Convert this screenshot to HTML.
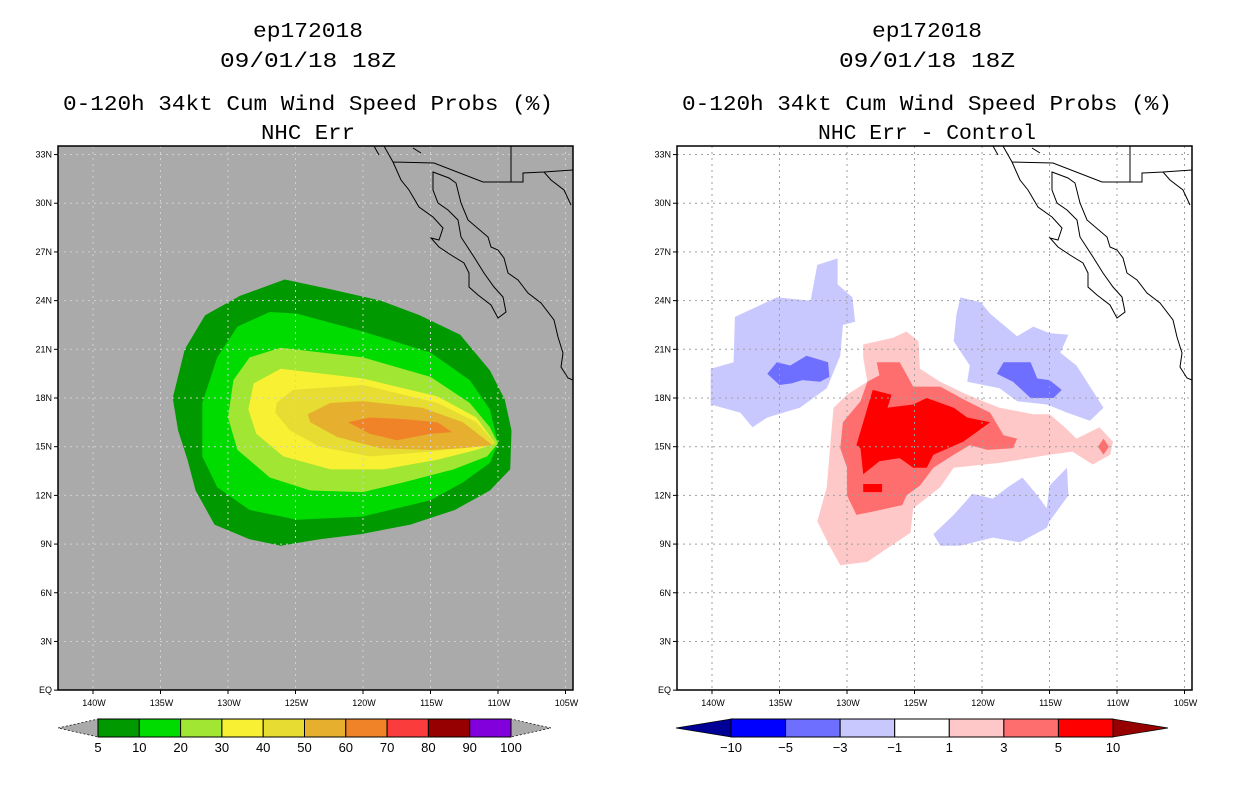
<!DOCTYPE html>
<html><head><meta charset="utf-8"><style>
html,body{margin:0;padding:0;background:#fff;}
svg{display:block;font-family:"Liberation Sans",sans-serif;}
.tt{font-family:"Liberation Mono",monospace;font-size:21px;}
</style></head><body>
<svg id="root" width="1236" height="800" viewBox="0 0 1236 800" xmlns="http://www.w3.org/2000/svg">
<text class="tt" x="308" y="37" text-anchor="middle" textLength="110" lengthAdjust="spacingAndGlyphs">ep172018</text>
<text class="tt" x="308" y="67" text-anchor="middle" textLength="176" lengthAdjust="spacingAndGlyphs">09/01/18 18Z</text>
<text class="tt" x="308" y="110" text-anchor="middle" textLength="490" lengthAdjust="spacingAndGlyphs">0-120h 34kt Cum Wind Speed Probs (%)</text>
<text class="tt" x="308" y="139" text-anchor="middle" textLength="94" lengthAdjust="spacingAndGlyphs">NHC Err</text>
<text class="tt" x="927" y="37" text-anchor="middle" textLength="110" lengthAdjust="spacingAndGlyphs">ep172018</text>
<text class="tt" x="927" y="67" text-anchor="middle" textLength="176" lengthAdjust="spacingAndGlyphs">09/01/18 18Z</text>
<text class="tt" x="927" y="110" text-anchor="middle" textLength="490" lengthAdjust="spacingAndGlyphs">0-120h 34kt Cum Wind Speed Probs (%)</text>
<text class="tt" x="927" y="139" text-anchor="middle" textLength="218" lengthAdjust="spacingAndGlyphs">NHC Err - Control</text>
<g id="left"></g>
<g id="right"></g>
<g id="cbars"></g>
</svg>
<script>
// ---- data ----
const lonTicks = [140,135,130,125,120,115,110,105];
const latTicks = [0,3,6,9,12,15,18,21,24,27,30,33];
const latLabels = ["EQ","3N","6N","9N","12N","15N","18N","21N","24N","27N","30N","33N"];
const probLevels = [5,10,20,30,40,50,60,70,80,90,100];
const probColors = ["#009a00","#00dc00","#a0e632","#f8f032","#e6dc32","#e6af2d","#f08228","#fa3c3c","#960000","#8200dc"];
const diffLevels = ["\u221210","\u22125","\u22123","\u22121","1","3","5","10"];
const diffColors = ["#0000ff","#6e6eff","#c8c8ff","#ffffff","#ffc8c8","#ff6e6e","#ff0000"];
// contour polygons: [lonW, latN] pairs
const prob5 = [[134.1,18],[133.2,21],[131.7,23.1],[129.1,24.3],[125.8,25.3],[122.4,24.7],[118.7,24],[115.8,23.1],[112.8,21.9],[110.6,19.7],[109.5,17.9],[109,16],[109.1,13.6],[110.6,12.3],[113.2,11.1],[116.5,10.2],[120.2,9.6],[123.2,9.3],[126.1,8.9],[128.4,9.3],[131,10.2],[132.4,12.3],[133,14.2],[133.7,16]];
const prob10 = [[129.3,22.4],[126.9,23.3],[124.9,23.2],[120,22.1],[115,20.8],[112.1,19.1],[110.6,17.3],[110,15.2],[110.6,14],[112.6,12.8],[115,11.7],[120,10.7],[124.9,10.5],[128.4,11.1],[130.8,12.5],[131.9,14.4],[131.9,17.7],[130.8,20.5]];
const prob20 = [[128.4,20.5],[126.1,21.1],[120,20.5],[115,19.3],[112.1,17.7],[110.6,16.2],[110,15.2],[110.8,14.4],[113.3,13.6],[117,12.8],[120,12.2],[123.9,12.3],[126.9,13.1],[129.3,14.8],[130,16.8],[129.6,19.1]];
const prob30 = [[128.1,18.9],[126.1,19.8],[120,19.2],[114.5,18.1],[111.6,16.8],[110.2,15.2],[111.6,14.8],[114.5,14.2],[118.5,13.6],[122.4,13.6],[125.9,14.4],[127.9,15.8],[128.5,17.3]];
const prob40 = [[126.4,17.7],[125.2,18.5],[120,18.8],[114.5,17.7],[111.6,16.5],[110.2,15.2],[112.1,15],[115,14.7],[119.5,14.4],[123.2,15],[125.4,16],[126.5,17.1]];
const prob50 = [[124.1,17],[122.4,17.7],[120,17.8],[115.6,17.4],[112.6,16.5],[110.4,15.1],[112.6,14.9],[115,14.8],[118.7,14.9],[121.9,15.6],[123.9,16.5]];
const prob60 = [[121.1,16.5],[119.5,16.8],[117,16.7],[114.5,16.5],[113.4,15.9],[115,15.8],[117.5,15.4],[119.5,15.8],[120.4,16.2]];
const diffNeg3a = [[140.1,19.8],[138.4,20.2],[138.3,23],[135.2,24.2],[132.7,24],[132.2,26.2],[130.7,26.6],[130.7,25],[129.6,24.2],[129.4,22.7],[130.3,22.5],[130.5,20.6],[131.5,18.6],[133.5,17.4],[135.9,16.8],[137,16.2],[137.9,17.1],[140.1,17.6]];
const diffNeg3b = [[121.6,24.2],[120.1,23.9],[119.4,23.2],[117.4,21.8],[116.2,22.4],[115,22],[113.6,21.9],[114.2,20.8],[113,20],[111,17.4],[112,16.6],[113.7,17.1],[115.2,17.6],[117.4,17.8],[118.7,18.6],[121.1,19],[120.9,20],[122.1,21.5],[121.9,23.1]];
const diffNeg3c = [[123.6,9.6],[122.1,10.8],[120.7,12.1],[119.2,11.8],[118.1,12.5],[117,13.1],[115.9,12],[115.2,11.2],[115,12.6],[113.7,13.7],[113.6,12],[115,10.4],[115.2,10],[117.2,9.1],[119.2,9.4],[121.6,8.9],[123.1,8.9]];
const diffNeg5a = [[135.9,19.5],[135.2,20.2],[134.2,20],[133,20.6],[131.4,20.2],[131.3,19.3],[132,19],[133.3,19.1],[134.1,18.9],[135,18.8]];
const diffNeg5b = [[118.9,19.5],[118.4,20.2],[116.4,20.2],[115.9,19.2],[115,19.1],[114.1,18.5],[114.7,18],[116.4,18],[117.7,19]];
const diffPos1 = [[128.8,21.3],[126.6,21.7],[125.6,22.1],[124.7,21.5],[124.6,19.8],[123.1,19],[121.1,18.2],[118.7,17.4],[116.2,17],[115,17],[114,16.3],[113,15.5],[111.3,16.2],[110.3,15.3],[110.5,14.5],[111.8,13.9],[113.3,14.7],[115,14.5],[118.7,14],[122.1,13.7],[123.1,12.5],[125.1,11.2],[125.3,9.7],[128.5,7.9],[130.5,7.7],[131.3,8.9],[132.2,10.4],[131.5,12.5],[131.3,14.5],[131,17.4],[130,18.2],[128.5,19],[128.8,20.5]];
const diffPos3 = [[127.8,20.2],[126.1,20.2],[125.1,18.7],[123.1,18.7],[121.1,17.8],[119.4,17.1],[118.4,15.7],[117.4,15.5],[117.7,14.9],[119.6,14.8],[120.9,15.1],[122.1,14.5],[123.6,13.7],[124.6,12.6],[125.6,12],[125.9,11.4],[128.1,11],[129.3,10.8],[130,12],[130,13.7],[130.5,14.9],[130.3,16.5],[129,17.8],[128.5,19],[127.6,19.4]];
const diffPos3b = [[111,15.5],[110.6,15],[111,14.5],[111.4,15]];
const diffPos5 = [[128.1,18.5],[126.7,18.2],[127,17.4],[125.1,17.6],[124.1,18],[122.1,17.4],[121.1,16.8],[119.4,16.5],[120.4,15.9],[121.4,15.3],[123.6,14.5],[124.1,13.7],[125.1,13.7],[126.1,14.3],[127.6,14.1],[128.8,13.3],[129,14.9],[129.3,15.1],[128.8,16.5]];
const diffPos5b = [[128.8,12.7],[127.4,12.7],[127.4,12.2],[128.8,12.2]];

// ---- axes ----
const NS='http://www.w3.org/2000/svg';
function mk(tag,attrs,parent){const e=document.createElementNS(NS,tag);for(const k in attrs)e.setAttribute(k,attrs[k]);parent.appendChild(e);return e;}
function xL(lon,off){return 228+(130-lon)*13.5+off;}
function yL(lat){return 398-(lat-18)*16.23;}
function pts(poly,off){return poly.map(p=>xL(p[0],off).toFixed(1)+','+yL(p[1]).toFixed(1)).join(' ');}

const coast = "M1003,146 L1012,162 1020,180 1028,190 1038,207 1052,217 1062,228 1058,240 1050,238 1058,247 1070,255 1083,263 1088,273 1088,287 1097,295 1110,305 1117,318 1125,312 1122,297 1113,287 1103,273 1093,257 1080,237 1077,220 1067,210 1057,203 1052,190 1052,172 1068,178 1075,183 1080,203 1087,220 1107,237 1110,247 1117,250 1123,258 1127,273 1137,280 1147,293 1160,303 1173,320 1177,337 1182,353 1180,367 1187,378 1192,380 M1012,162 L1053,163 1102,182 1130,182 1130,146 M1130,182 L1142,182 1142,173 1163,172 1170,180 1183,190 1190,205 M1163,172 L1192,170 M993,146 L998,155 M1032,148 L1040,153";

function panel(g,off,bg,name,polys){
  const X0=58+off, X1=573+off, Y0=146, Y1=690;
  const clipId='clip'+name;
  const cp=mk('clipPath',{id:clipId},g); mk('rect',{x:X0,y:Y0,width:X1-X0,height:Y1-Y0},cp);
  const bgr=mk('rect',{x:X0,y:Y0,width:X1-X0,height:Y1-Y0,fill:bg},g);
  
  
  const cg=mk('g',{'clip-path':'url(#'+clipId+')'},g);
  polys.forEach(pp=>{
    const p=mk('polygon',{points:pts(pp[0],off),fill:pp[1]},cg);
    
    
  });
  const gridCol = bg==='#fff'?'#a0a0a0':'#d0d0d0';
  lonTicks.forEach(l=>{const x=xL(l,off); if(x>X0&&x<X1){
    const ln=mk('line',{x1:x,y1:Y0,x2:x,y2:Y1,stroke:gridCol,'stroke-dasharray':'2,4','stroke-width':1},cg);
    
    }
    const t=mk('text',{x:x+1,y:706,'font-size':9,'text-anchor':'middle'},g); t.textContent=l+'W';
    
    
    mk('line',{x1:x,y1:Y1,x2:x,y2:Y1+4,stroke:'#000'},g);
  });
  latTicks.forEach((l,i)=>{const y=yL(l);
    if(y>Y0+2&&y<Y1-2){const ln=mk('line',{x1:X0,y1:y,x2:X1,y2:y,stroke:gridCol,'stroke-dasharray':'2,4','stroke-width':1},cg);
    
    }
    const t=mk('text',{x:X0-6,y:y+3,'font-size':9,'text-anchor':'end'},g); t.textContent=latLabels[i];
    
    
    mk('line',{x1:X0-4,y1:y,x2:X0,y2:y,stroke:'#000'},g);
  });
  const c=mk('path',{d:coast,fill:'none',stroke:'#000','stroke-width':1,transform:'translate('+(off-619)+',0)'},cg);
  
  
  const fr=mk('rect',{x:X0,y:Y0,width:X1-X0,height:Y1-Y0,fill:'none',stroke:'#000','stroke-width':1.5},g);
  
  
}
panel(document.getElementById('left'),0,'#aaaaaa','left',[
  [prob5,probColors[0],'5'],[prob10,probColors[1],'10'],[prob20,probColors[2],'20'],[prob30,probColors[3],'30'],
  [prob40,probColors[4],'40'],[prob50,probColors[5],'50'],[prob60,probColors[6],'60']]);
panel(document.getElementById('right'),619,'#fff','right',[
  [diffNeg3a,diffColors[2],'neg1-a'],[diffNeg3b,diffColors[2],'neg1-b'],[diffNeg3c,diffColors[2],'neg1-c'],
  [diffNeg5a,diffColors[1],'neg3-a'],[diffNeg5b,diffColors[1],'neg3-b'],
  [diffPos1,diffColors[4],'pos1'],[diffPos3,diffColors[5],'pos3'],[diffPos3b,diffColors[5],'pos3-b'],
  [diffPos5,diffColors[6],'pos5'],[diffPos5b,diffColors[6],'pos5-b']]);

// ---- colorbars ----
function cbar(g,x0,x1,levels,colors,leftArrow,rightArrow,name,aw){
  const n=colors.length, w=(x1-x0)/n, yt=719, yb=737, ym=728;
  const la=mk('polygon',{points:`${x0-aw},${ym} ${x0},${yt} ${x0},${yb}`,fill:leftArrow,stroke:'#000','stroke-dasharray':leftArrow==='#aaaaaa'?'2,2':'none','stroke-width':0.7},g);
  
  
  const ra=mk('polygon',{points:`${x1+aw},${ym} ${x1},${yt} ${x1},${yb}`,fill:rightArrow,stroke:'#000','stroke-dasharray':rightArrow==='#aaaaaa'?'2,2':'none','stroke-width':0.7},g);
  
  
  colors.forEach((c,i)=>{const r=mk('rect',{x:x0+i*w,y:yt,width:w,height:yb-yt,fill:c,stroke:'#000','stroke-width':1},g);
    
    });
  levels.forEach((l,i)=>{const t=mk('text',{x:x0+i*w,y:752,'font-size':13,'text-anchor':'middle'},g);t.textContent=l;
    
    });
}
const cg=document.getElementById('cbars');
cbar(cg,98,511,probLevels,probColors,'#aaaaaa','#aaaaaa','prob-colorbar',40);
cbar(cg,731,1113,diffLevels,diffColors,'#000096','#960000','diff-colorbar',55);
</script>
</body></html>
